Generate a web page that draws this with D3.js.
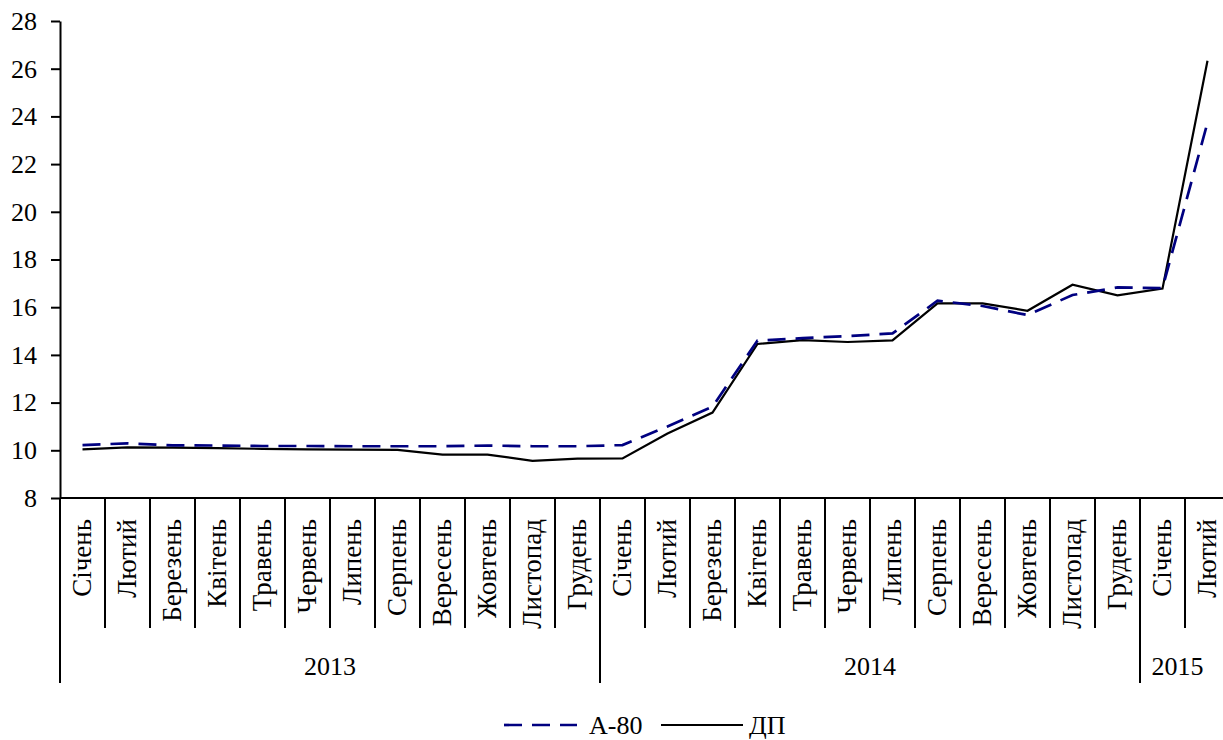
<!DOCTYPE html>
<html>
<head>
<meta charset="utf-8">
<script src="https://cdn.jsdelivr.net/npm/d3@7"></script>
<style>
  html, body { margin: 0; padding: 0; background: #fff; }
  svg { display: block; }
</style>
</head>
<body>
<svg id="chart" width="1223" height="740"></svg>
<script>
const months = ["Січень","Лютий","Березень","Квітень","Травень","Червень","Липень","Серпень","Вересень","Жовтень","Листопад","Грудень",
                "Січень","Лютий","Березень","Квітень","Травень","Червень","Липень","Серпень","Вересень","Жовтень","Листопад","Грудень",
                "Січень","Лютий"];
const years = ["2013", "2014", "2015"];
const yearMonthCounts = [12, 12, 2];
const yTicks = [8, 10, 12, 14, 16, 18, 20, 22, 24, 26, 28];
const seriesNames = ["А-80", "ДП"];
const a80 = [10.22, 10.29, 10.21, 10.2, 10.18, 10.18, 10.17, 10.17, 10.17, 10.2, 10.17, 10.17,
             10.22, 11.0, 11.83, 14.6, 14.7, 14.79, 14.9, 16.27, 16.05, 15.67, 16.51, 16.83,
             16.8, 23.74];
const dp  = [10.04, 10.12, 10.11, 10.09, 10.06, 10.04, 10.03, 10.02, 9.82, 9.82, 9.56, 9.65,
             9.66, 10.7, 11.58, 14.46, 14.62, 14.54, 14.61, 16.16, 16.16, 15.85, 16.94, 16.5,
             16.78, 26.33];

const FONT = "'Liberation Serif', 'Times New Roman', serif";
const fontSize = "26px";
const monthFontSize = "27px";
const svg = d3.select("#chart");
const idx = d3.range(months.length);
const x = d3.scaleBand().domain(idx).range([60, 1230]).padding(0);
const y = d3.scaleLinear().domain([8, 28]).range([498, 21]);

// Y axis
const yAxis = d3.axisLeft(y).tickValues(yTicks).tickSize(9).tickPadding(14).tickSizeOuter(0);
const gy = svg.append("g").attr("transform", "translate(60,0)").call(yAxis);
gy.attr("font-family", null).attr("font-size", null);
gy.select(".domain").attr("stroke", "#000").attr("stroke-width", 2);
gy.selectAll(".tick line").attr("stroke", "#000").attr("stroke-width", 2);
gy.selectAll(".tick text").style("font-family", FONT).style("font-size", fontSize).attr("fill", "#000");

// X axis baseline
svg.append("line").attr("x1", 60).attr("x2", 1230).attr("y1", y(8)).attr("y2", y(8))
  .attr("stroke", "#000").attr("stroke-width", 2);

// Month / year separators
const yearStartIdx = [];
{ let c = 0; yearMonthCounts.forEach(n => { yearStartIdx.push(c); c += n; }); yearStartIdx.push(c); }
const monthBoundaries = idx.map(i => x(i)).concat([x(months.length - 1) + x.bandwidth()]);
svg.append("g").selectAll("line").data(monthBoundaries).join("line")
  .attr("x1", d => d).attr("x2", d => d)
  .attr("y1", y(8))
  .attr("y2", (d, i) => yearStartIdx.includes(i) ? 683 : 628)
  .attr("stroke", "#000").attr("stroke-width", 2);

// Month labels
svg.append("g").selectAll("text").data(months).join("text")
  .attr("transform", (d, i) => `translate(${x(i) + x.bandwidth() / 2},519) rotate(-90)`)
  .attr("text-anchor", "end")
  .attr("dy", "0.33em")
  .style("font-family", FONT).style("font-size", monthFontSize)
  .attr("fill", "#000")
  .text(d => d);

// Year labels
svg.append("g").selectAll("text").data(years).join("text")
  .attr("x", (d, i) => {
    const s = x(yearStartIdx[i]);
    const e = x(yearStartIdx[i + 1] - 1) + x.bandwidth();
    return (s + Math.min(e, 1223)) / 2 + (i === 2 ? -4 : 0);
  })
  .attr("y", 675)
  .attr("text-anchor", "middle")
  .style("font-family", FONT).style("font-size", fontSize)
  .attr("fill", "#000")
  .text(d => d);

// Lines
const line = d3.line().x((d, i) => x(i) + x.bandwidth() / 2).y(d => y(d));
svg.append("path").datum(dp).attr("d", line).attr("fill", "none")
  .attr("stroke", "#000").attr("stroke-width", 2.2);
svg.append("path").datum(a80).attr("d", line).attr("fill", "none")
  .attr("stroke", "#000080").attr("stroke-width", 2.7).attr("stroke-dasharray", "18,10");

// Legend
const lg = svg.append("g");
lg.append("line").attr("x1", 504).attr("x2", 577).attr("y1", 725).attr("y2", 725)
  .attr("stroke", "#000080").attr("stroke-width", 2.7).attr("stroke-dasharray", "18,10");
lg.append("text").attr("x", 589).attr("y", 725).attr("dy", "0.33em")
  .style("font-family", FONT).style("font-size", fontSize).attr("fill", "#000").text(seriesNames[0]);
lg.append("line").attr("x1", 661).attr("x2", 743).attr("y1", 725).attr("y2", 725)
  .attr("stroke", "#000").attr("stroke-width", 2.2);
lg.append("text").attr("x", 749).attr("y", 725).attr("dy", "0.33em")
  .style("font-family", FONT).style("font-size", fontSize).attr("fill", "#000").text(seriesNames[1]);
</script>
</body>
</html>
